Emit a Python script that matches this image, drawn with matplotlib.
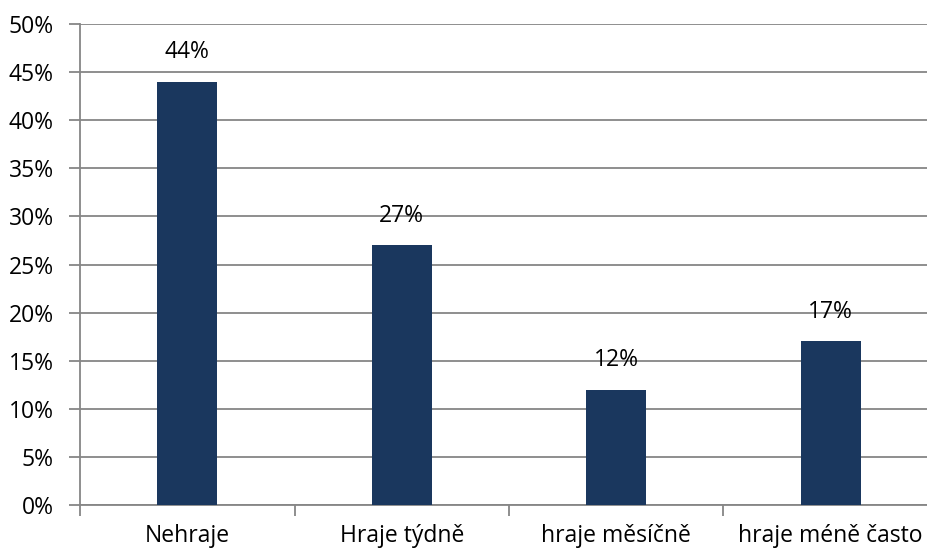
import matplotlib.pyplot as plt
import numpy as np

plt.rcParams['font.family'] = ['Open Sans', 'DejaVu Sans']

categories = ["Nehraje", "Hraje týdně", "hraje měsíčně", "hraje méně často"]
values = [44, 27, 12, 17]
yticks = [0, 5, 10, 15, 20, 25, 30, 35, 40, 45, 50]

bar_color = '#1a375e'
grid_color = '#868686'

fig = plt.figure(figsize=(9.28, 5.49), dpi=100)
ax = fig.add_axes([80 / 928, 44 / 549, 858 / 928, 481 / 549])

x = np.arange(len(categories))
bars = ax.bar(x, values, width=0.28, color=bar_color, zorder=3)
for xi, v in zip(x, values):
    ax.text(xi, v + 1.8, f"{v}%", ha='center', va='bottom', fontsize=16.5, color='black')

ax.set_xlim(-0.5, len(categories) - 0.5)
ax.set_ylim(0, 50)
ax.set_yticks(yticks)
ax.set_yticklabels([f"{t}%" for t in yticks], fontsize=16.5)
ax.yaxis.grid(True, color=grid_color, linewidth=1.3, zorder=0)

ax.set_xticks(np.arange(-0.5, len(categories), 1.0))
ax.set_xticklabels([])
ax.set_xticks(x, minor=True)
ax.set_xticklabels(categories, minor=True, fontsize=16.5)
ax.tick_params(axis='x', which='minor', length=0, pad=14)
ax.tick_params(axis='x', which='major', length=8, width=1.3, color=grid_color)
ax.tick_params(axis='y', length=8, width=1.3, color=grid_color, pad=11)

for s in ['top', 'right']:
    ax.spines[s].set_visible(False)
for s in ['left', 'bottom']:
    ax.spines[s].set_color(grid_color)
    ax.spines[s].set_linewidth(1.3)

fig.savefig('out.png', dpi=100)
